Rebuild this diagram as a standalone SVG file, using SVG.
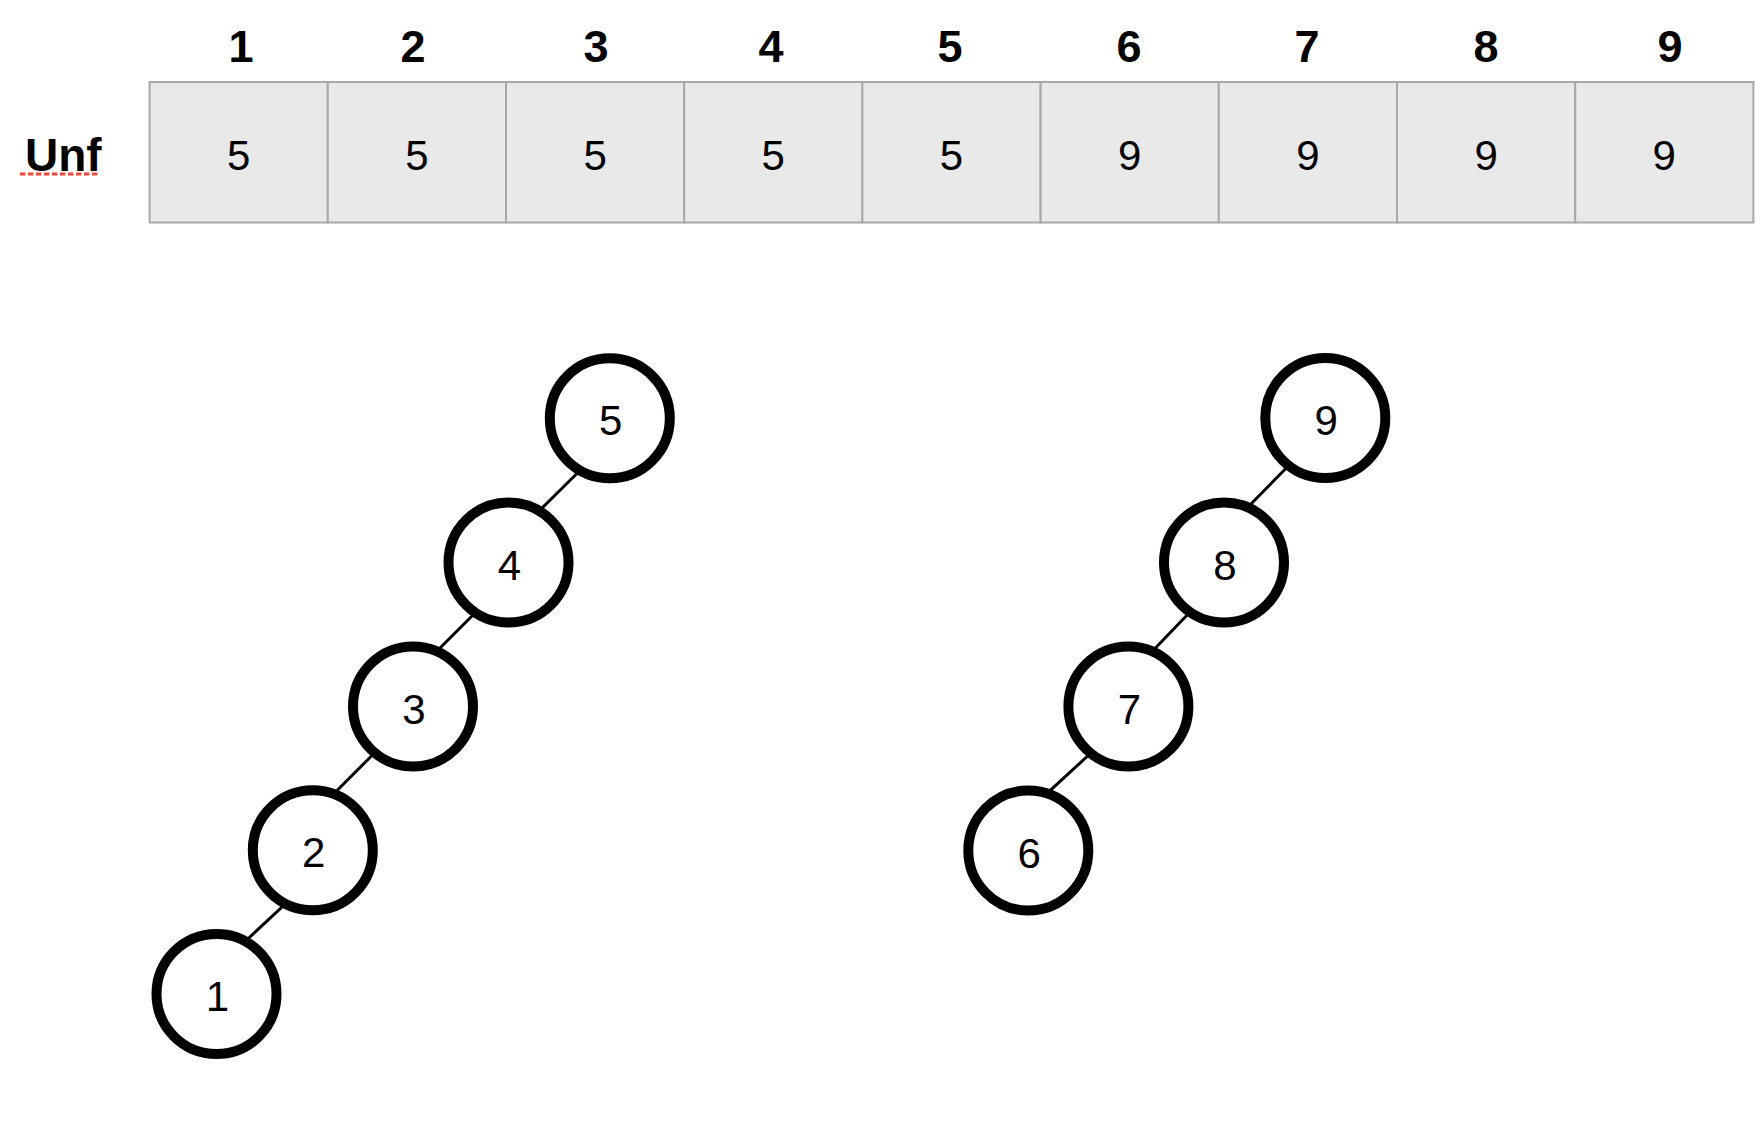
<svg xmlns="http://www.w3.org/2000/svg" width="1764" height="1134" viewBox="0 0 1764 1134">
<style>
.hdr{font-family:"Liberation Sans",Arial,sans-serif;font-weight:bold;font-size:45px;fill:#000;text-anchor:middle}
.val{font-family:"Liberation Sans",Arial,sans-serif;font-size:42px;fill:#000;text-anchor:middle}
.cell{fill:#e9e9e9;stroke:#a8a8a8;stroke-width:2}
.node circle{fill:#fff;stroke:#000;stroke-width:10}
.node text{font-family:"Liberation Sans",Arial,sans-serif;font-size:42px;fill:#000;text-anchor:middle}
.edge{stroke:#000;stroke-width:3;fill:none}
</style>
<rect width="1764" height="1134" fill="#fff"/>
<g id="table">
  <g id="headers">
    <text class="hdr" x="241" y="62">1</text>
    <text class="hdr" x="413" y="62">2</text>
    <text class="hdr" x="596" y="62">3</text>
    <text class="hdr" x="771" y="62">4</text>
    <text class="hdr" x="950" y="62">5</text>
    <text class="hdr" x="1129" y="62">6</text>
    <text class="hdr" x="1307" y="62">7</text>
    <text class="hdr" x="1486" y="62">8</text>
    <text class="hdr" x="1670" y="62">9</text>
  </g>
  <g id="rowlabel">
    <text x="25" y="171" style="font-family:'Liberation Sans',Arial,sans-serif;font-weight:bold;font-size:46px;fill:#000">Unf</text>
    <line x1="20" y1="174" x2="100" y2="174" stroke="#e8483a" stroke-width="3" stroke-dasharray="5.3 2.7"/>
  </g>
  <g id="cells">
    <rect class="cell" x="149.6" y="82" width="178.2" height="140.5"/>
    <rect class="cell" x="327.8" y="82" width="178.2" height="140.5"/>
    <rect class="cell" x="506" y="82" width="178.2" height="140.5"/>
    <rect class="cell" x="684.2" y="82" width="178.2" height="140.5"/>
    <rect class="cell" x="862.4" y="82" width="178.2" height="140.5"/>
    <rect class="cell" x="1040.6" y="82" width="178.2" height="140.5"/>
    <rect class="cell" x="1218.8" y="82" width="178.2" height="140.5"/>
    <rect class="cell" x="1397" y="82" width="178.2" height="140.5"/>
    <rect class="cell" x="1575.2" y="82" width="178.2" height="140.5"/>
    <text class="val" x="238.7" y="169.5">5</text>
    <text class="val" x="416.9" y="169.5">5</text>
    <text class="val" x="595.1" y="169.5">5</text>
    <text class="val" x="773.3" y="169.5">5</text>
    <text class="val" x="951.5" y="169.5">5</text>
    <text class="val" x="1129.7" y="169.5">9</text>
    <text class="val" x="1307.9" y="169.5">9</text>
    <text class="val" x="1486.1" y="169.5">9</text>
    <text class="val" x="1664.3" y="169.5">9</text>
  </g>
</g>
<g id="connectors">
  <line class="edge" x1="580" y1="470.5" x2="540.5" y2="509.5"/>
  <line class="edge" x1="475.5" y1="612.5" x2="438" y2="650"/>
  <line class="edge" x1="373.7" y1="753.7" x2="335.3" y2="792.3"/>
  <line class="edge" x1="284.7" y1="904.5" x2="246.3" y2="940.3"/>
  <line class="edge" x1="1288" y1="466.3" x2="1248.7" y2="506.3"/>
  <line class="edge" x1="1191" y1="611" x2="1153.5" y2="650"/>
  <line class="edge" x1="1090.9" y1="753" x2="1048.9" y2="791.6"/>
</g>
<g id="node5" class="node"><circle cx="609.8" cy="418.3" r="60"/><text x="610.8" y="435.3">5</text></g>
<g id="node4" class="node"><circle cx="508.5" cy="562.5" r="60"/><text x="509.5" y="579.5">4</text></g>
<g id="node3" class="node"><circle cx="413" cy="706.5" r="60"/><text x="414" y="723.5">3</text></g>
<g id="node2" class="node"><circle cx="312.8" cy="850.3" r="60"/><text x="313.8" y="867.3">2</text></g>
<g id="node1" class="node"><circle cx="216.5" cy="994" r="60"/><text x="217.5" y="1011">1</text></g>
<g id="node9" class="node"><circle cx="1325.3" cy="418" r="60"/><text x="1326.3" y="435">9</text></g>
<g id="node8" class="node"><circle cx="1224" cy="562.5" r="60"/><text x="1225" y="579.5">8</text></g>
<g id="node7" class="node"><circle cx="1128.4" cy="706.5" r="60"/><text x="1129.4" y="723.5">7</text></g>
<g id="node6" class="node"><circle cx="1028.3" cy="850.5" r="60"/><text x="1029.3" y="867.5">6</text></g>
</svg>
